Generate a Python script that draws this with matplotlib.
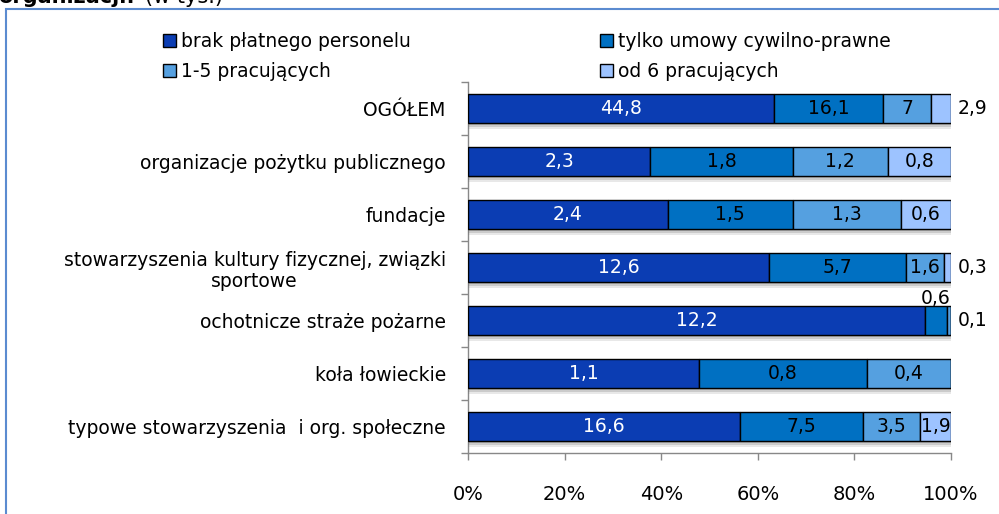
import numpy as np
import matplotlib
matplotlib.use("Agg")
import matplotlib.pyplot as plt
import matplotlib.patheffects as pe
from matplotlib.patches import Patch, Rectangle

plt.rcParams['font.family'] = ['DejaVu Sans']

categories = [
    "OGÓŁEM",
    "organizacje pożytku publicznego",
    "fundacje",
    "stowarzyszenia kultury fizycznej, związki\nsportowe",
    "ochotnicze straże pożarne",
    "koła łowieckie",
    "typowe stowarzyszenia  i org. społeczne",
]
series_names = ["brak płatnego personelu", "tylko umowy cywilno-prawne",
                "1-5 pracujących", "od 6 pracujących"]
brak = [44.8, 2.3, 2.4, 12.6, 12.2, 1.1, 16.6]
tylko = [16.1, 1.8, 1.5, 5.7, 0.6, 0.8, 7.5]
p1_5 = [7.0, 1.2, 1.3, 1.6, 0.1, 0.4, 3.5]
od6 = [2.9, 0.8, 0.6, 0.3, 0.0, 0.0, 1.9]
xtick_labels = ["0%", "20%", "40%", "60%", "80%", "100%"]

colors = ["#0B3DB3", "#0070C2", "#55A0E0", "#9DC3FF"]
text_colors = ["white", "black", "black", "black"]

# label placement overrides (row, series) -> mode
label_mode = {(0, 3): "right", (3, 3): "right", (4, 1): "above", (4, 2): "right"}

FS = 13.5
W, H = 999, 514
fig = plt.figure(figsize=(W / 100, H / 100), dpi=100)
ax = fig.add_axes([468 / W, 1 - 453 / H, (951 - 468) / W, (453 - 82) / H])

data = np.array([brak, tylko, p1_5, od6])
totals = data.sum(axis=0)
pct = data / totals * 100
n = len(categories)
ypos = np.arange(n)[::-1].astype(float)
bar_h = 0.53

shadow = [pe.SimplePatchShadow(offset=(0, -o), shadow_rgbFace='0.45', alpha=a)
          for o, a in [(1.5, 0.3), (3.0, 0.24), (4.5, 0.16)]]

left = np.zeros(n)
for s in range(4):
    bars = ax.barh(ypos, pct[s], left=left, height=bar_h, color=colors[s],
                   edgecolor="black", linewidth=1.0, label=series_names[s], zorder=3)
    for b in bars:
        b.set_path_effects(shadow + [pe.Normal()])
    for i in range(n):
        v = data[s, i]
        if v == 0:
            continue
        txt = f"{v:g}".replace(".", ",")
        mode = label_mode.get((i, s), "inside")
        cx = left[i] + pct[s, i] / 2
        if mode == "inside":
            ax.text(cx, ypos[i], txt, ha="center", va="center", fontsize=FS,
                    color=text_colors[s], zorder=5)
        elif mode == "right":
            ax.text(101.3, ypos[i], txt, ha="left", va="center", fontsize=FS,
                    color="black", zorder=5, clip_on=False)
        elif mode == "above":
            ax.text(cx, ypos[i] + bar_h / 2 - 0.03, txt, ha="center", va="bottom",
                    fontsize=FS, color="black", zorder=5, clip_on=False)
    left += pct[s]

ax.set_xlim(0, 100)
ax.set_ylim(-0.5, n - 0.5)
ax.set_xticks(np.linspace(0, 100, 6))
ax.set_xticklabels(xtick_labels, fontsize=14)
ax.tick_params(axis="x", length=5, pad=18, color="#888888", width=1)

ax.set_yticks(np.arange(-0.5, n, 1.0))
ax.set_yticklabels([])
ax.tick_params(axis="y", which="major", length=5, color="#888888", width=1)
ax.set_yticks(ypos, minor=True)
ax.set_yticklabels(categories, minor=True, fontsize=FS)
ax.tick_params(axis="y", which="minor", length=0, pad=16)
for lbl in ax.get_yticklabels(minor=True):
    lbl.set_multialignment("center")
    lbl.set_linespacing(1.15)

for side in ["top", "right"]:
    ax.spines[side].set_visible(False)
for side in ["left", "bottom"]:
    ax.spines[side].set_color("#888888")
    ax.spines[side].set_linewidth(1)

# legend laid out row-wise: row 1 = series 0,1 ; row 2 = series 2,3
order = [0, 2, 1, 3]
handles = [Patch(facecolor=colors[k], edgecolor="black", linewidth=1.0) for k in order]
labels = [series_names[k] for k in order]
fig.legend(handles, labels, loc="upper left", ncol=2, frameon=False,
           bbox_to_anchor=(163 / W, 1 - 32 / H), fontsize=FS,
           handlelength=0.7, handleheight=0.7, handletextpad=0.25,
           columnspacing=10.1, labelspacing=0.6, borderpad=0, borderaxespad=0)

# outer frame
fig.add_artist(Rectangle((5.5 / W, -0.05), 1.2, 1 - 9 / H + 0.05,
                         transform=fig.transFigure, fill=False,
                         edgecolor="#5B8BD0", linewidth=1.5))

# cut-off title at top (partly outside the image, as in the reference)
t1 = fig.text(-2 / W, 1 - 3 / H, "organizacji:", fontsize=15, fontweight="bold",
              ha="left", va="baseline")
fig.canvas.draw()
bb = t1.get_window_extent()
fig.text(bb.x1 / W + 10 / W, 1 - 3 / H, "(w tys.)", fontsize=15,
         ha="left", va="baseline")

fig.savefig("out.png", dpi=100)
